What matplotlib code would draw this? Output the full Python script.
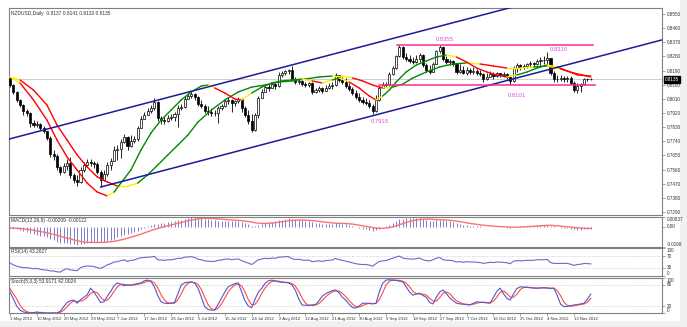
import numpy as np
import matplotlib
matplotlib.use("Agg")
import matplotlib.pyplot as plt
import matplotlib.transforms as mtransforms
from matplotlib.collections import LineCollection
from matplotlib.patches import Rectangle

plt.rcParams["font.family"] = ["Liberation Sans", "DejaVu Sans"]

# ---- NZDUSD daily bars, 1 May 2012 .. 19 Nov 2012 ----
first_open = 0.8143
closes = [
    .8098, .8054, .8003, .7971, .7933, .7920, .7856, .7843, .7850, .7824,
    .7805, .7761, .7659, .7646, .7576, .7544, .7583, .7602, .7526, .7494,
    .7481, .7557, .7589, .7608, .7602, .7595, .7544, .7494, .7532, .7589,
    .7614, .7684, .7691, .7735, .7767, .7710, .7742, .7754, .7824, .7882,
    .7907, .7933, .7952, .7990, .7888, .7875, .7869, .7888, .7894, .7914,
    .7952, .7958, .8009, .8028, .8041, .8022, .7977, .7964, .7933, .7926,
    .7920, .7920, .7952, .7964, .7996, .8003, .7984, .7996, .8009, .7952,
    .7907, .7869, .7812, .7907, .8015, .8054, .8085, .8079, .8104, .8092,
    .8162, .8174, .8187, .8194, .8136, .8117, .8124, .8104, .8098, .8111,
    .8054, .8066, .8079, .8060, .8079, .8092, .8098, .8162, .8130, .8117,
    .8092, .8073, .8047, .8022, .8003, .7990, .7984, .7964, .7933, .8003,
    .8079, .8098, .8104, .8168, .8206, .8283, .8340, .8276, .8264, .8251,
    .8244, .8264, .8289, .8225, .8194, .8181, .8232, .8315, .8340, .8264,
    .8244, .8251, .8232, .8181, .8194, .8174, .8194, .8181, .8187, .8174,
    .8168, .8136, .8149, .8168, .8155, .8174, .8162, .8168, .8149, .8124,
    .8206, .8225, .8213, .8219, .8232, .8238, .8232, .8251, .8257, .8257,
    .8270, .8174, .8136, .8136, .8143, .8136, .8143, .8111, .8066, .8092,
    .8104, .8136, .8137, .8135]
highs = [
    .8149, .8104, .8060, .8009, .7977, .7945, .7926, .7875, .7869, .7856,
    .7837, .7805, .7773, .7684, .7659, .7583, .7602, .7627, .7640, .7538,
    .7526, .7576, .7608, .7627, .7627, .7614, .7608, .7557, .7557, .7608,
    .7633, .7710, .7716, .7754, .7786, .7773, .7780, .7773, .7837, .7901,
    .7926, .7952, .7971, .8015, .7996, .7901, .7894, .7907, .7914, .7926,
    .7971, .7977, .8028, .8047, .8060, .8047, .8028, .8003, .7977, .7964,
    .7952, .7939, .7964, .7977, .8009, .8022, .8009, .8003, .8022, .8015,
    .7964, .7939, .7914, .7920, .8028, .8073, .8098, .8104, .8117, .8111,
    .8181, .8187, .8194, .8200, .8219, .8149, .8136, .8130, .8117, .8117,
    .8117, .8079, .8092, .8085, .8098, .8111, .8117, .8174, .8162, .8149,
    .8143, .8111, .8085, .8066, .8047, .8022, .8015, .8003, .7977, .8034,
    .8092, .8117, .8117, .8181, .8219, .8289, .8355, .8346, .8302, .8289,
    .8276, .8289, .8302, .8296, .8238, .8225, .8244, .8321, .8353, .8346,
    .8283, .8264, .8257, .8238, .8232, .8219, .8213, .8206, .8213, .8200,
    .8194, .8174, .8174, .8187, .8181, .8181, .8174, .8181, .8174, .8162,
    .8219, .8238, .8232, .8232, .8238, .8251, .8244, .8264, .8276, .8283,
    .8310, .8270, .8187, .8162, .8162, .8155, .8155, .8155, .8124, .8111,
    .8111, .8143, .8143, .8141]
lows = [
    .8085, .8041, .7990, .7958, .7907, .7901, .7831, .7831, .7831, .7812,
    .7793, .7748, .7640, .7621, .7557, .7526, .7538, .7557, .7507, .7474,
    .7455, .7474, .7544, .7576, .7583, .7570, .7532, .7449, .7487, .7519,
    .7557, .7614, .7621, .7633, .7729, .7684, .7703, .7729, .7742, .7824,
    .7882, .7907, .7920, .7939, .7869, .7850, .7850, .7863, .7875, .7869,
    .7831, .7939, .7952, .8009, .8015, .8003, .7964, .7952, .7920, .7907,
    .7901, .7901, .7856, .7939, .7958, .7977, .7926, .7964, .7984, .7926,
    .7894, .7850, .7799, .7805, .7888, .8015, .8054, .8060, .8079, .8073,
    .8085, .8149, .8162, .8168, .8130, .8104, .8104, .8092, .8085, .8085,
    .8041, .8047, .8054, .8047, .8060, .8073, .8073, .8092, .8117, .8104,
    .8079, .8060, .8034, .8009, .7990, .7977, .7971, .7952, .7915, .7926,
    .7996, .8079, .8085, .8092, .8162, .8200, .8276, .8264, .8251, .8238,
    .8232, .8238, .8244, .8213, .8181, .8168, .8181, .8232, .8302, .8251,
    .8232, .8225, .8219, .8168, .8174, .8168, .8162, .8168, .8168, .8162,
    .8155, .8117, .8130, .8149, .8136, .8149, .8149, .8149, .8136, .8101,
    .8117, .8181, .8194, .8200, .8206, .8213, .8213, .8225, .8219, .8232,
    .8219, .8162, .8117, .8117, .8124, .8117, .8117, .8098, .8054, .8047,
    .8054, .8098, .8124, .8133]

# colour-coded moving averages (sampled bars, price)
fast_ma_bars = [0, 3, 7, 11, 14, 17, 20, 23, 26, 29, 31, 33, 36, 39, 42, 45, 48,
                51, 54, 57, 59, 61, 64, 67, 69, 72, 75, 78, 81, 84, 87, 90, 93,
                96, 98, 101, 104, 107, 109, 111, 113, 115, 118, 121, 124, 127,
                130, 133, 136, 139, 142, 145, 148, 151, 154, 157, 160, 163, 166,
                169, 173]
fast_ma = [.8149, .8111, .8003, .7875, .7748, .7640, .7557, .7474, .7417, .7392,
           .7417, .7474, .7557, .7684, .7793, .7875, .7939, .8003, .8054, .8092,
           .8098, .8079, .8047, .8009, .8003, .8047, .8085, .8111, .8124, .8130,
           .8136, .8124, .8111, .8130, .8143, .8117, .8079, .8028, .8003, .8028,
           .8066, .8117, .8181, .8225, .8251, .8276, .8289, .8276, .8244, .8206,
           .8181, .8162, .8149, .8162, .8181, .8206, .8225, .8213, .8187, .8162,
           .8155]
slow_ma_bars = [0, 3, 7, 11, 14, 17, 20, 23, 26, 29, 32, 35, 38, 41, 44, 47, 50,
                53, 56, 60, 64, 68, 72, 76, 80, 84, 88, 92, 96, 99, 102, 105, 108,
                111, 114, 117, 120, 124, 128, 132, 136, 140, 144, 148, 152, 156,
                160, 164, 168, 173]
slow_ma = [.8149, .8130, .8066, .7971, .7843, .7748, .7653, .7576, .7513, .7481,
           .7455, .7455, .7474, .7526, .7589, .7653, .7716, .7780, .7863, .7939,
           .8003, .8054, .8085, .8098, .8117, .8124, .8136, .8149, .8155, .8155,
           .8143, .8124, .8098, .8079, .8085, .8104, .8143, .8181, .8213, .8232,
           .8238, .8232, .8219, .8206, .8206, .8213, .8219, .8200, .8174, .8149]

# channel lines and horizontal levels: (bar, price) end points
channel_lower = [(27, 0.7449), (194.2, 0.8385)]
channel_upper = [(-0.3, 0.7754), (194.2, 0.8843)]
level_high = (115.2, 173.5, 0.8355)
level_low = (110.0, 174.3, 0.8101)
level_notes = [("0.8355", 129.5, 0.8386), ("0.8310", 163.5, 0.8321),
               ("0.7915", 110.0, 0.7869), ("0.8101", 151.0, 0.8034)]
last_price = 0.8135

# MACD(12,26,9): main as histogram, signal as line
macd_main = [
    -0.0010, -0.0014, -0.0020, -0.0027, -0.0035, -0.0042,
    -0.0052, -0.0060, -0.0066, -0.0072, -0.0078, -0.0086,
    -0.0100, -0.0110, -0.0122, -0.0132, -0.0134, -0.0134,
    -0.0140, -0.0146, -0.0150, -0.0146, -0.0140, -0.0134,
    -0.0130, -0.0126, -0.0126, -0.0130, -0.0126, -0.0118,
    -0.0110, -0.0098, -0.0088, -0.0076, -0.0064, -0.0060,
    -0.0052, -0.0044, -0.0032, -0.0018, -0.0006, 0.0006,
    0.0018, 0.0024, 0.0026, 0.0030, 0.0034, 0.0040,
    0.0044, 0.0050, 0.0056, 0.0062, 0.0070, 0.0076,
    0.0080, 0.0080, 0.0078, 0.0074, 0.0070, 0.0066,
    0.0060, 0.0056, 0.0054, 0.0052, 0.0052, 0.0052,
    0.0050, 0.0048, 0.0046, 0.0040, 0.0032, 0.0022,
    0.0010, 0.0008, 0.0016, 0.0024, 0.0032, 0.0038,
    0.0044, 0.0048, 0.0056, 0.0062, 0.0068, 0.0072,
    0.0070, 0.0066, 0.0062, 0.0058, 0.0054, 0.0050,
    0.0042, 0.0036, 0.0032, 0.0028, 0.0026, 0.0024,
    0.0024, 0.0030, 0.0030, 0.0028, 0.0024, 0.0018,
    0.0010, 0.0002, -0.0006, -0.0014, -0.0020, -0.0026,
    -0.0034, -0.0028, -0.0014, -0.0002, 0.0008, 0.0020,
    0.0034, 0.0050, 0.0066, 0.0070, 0.0072, 0.0074,
    0.0074, 0.0074, 0.0076, 0.0070, 0.0062, 0.0054,
    0.0052, 0.0056, 0.0060, 0.0056, 0.0050, 0.0046,
    0.0040, 0.0032, 0.0026, 0.0020, 0.0016, 0.0012,
    0.0010, 0.0008, 0.0006, 0.0002, 0.0000, 0.0000,
    -0.0002, -0.0002, -0.0002, -0.0004, -0.0006, -0.0010,
    -0.0004, 0.0002, 0.0004, 0.0006, 0.0008, 0.0010,
    0.0012, 0.0014, 0.0016, 0.0018, 0.0020, 0.0012,
    0.0004, -0.0002, -0.0006, -0.0008, -0.0010, -0.0014,
    -0.0020, -0.0022, -0.0022, -0.0020, -0.0020, -0.00209]
macd_signal = [
    -0.0008, -0.0009, -0.0011, -0.0013, -0.0016, -0.0019,
    -0.0023, -0.0028, -0.0033, -0.0038, -0.0043, -0.0048,
    -0.0055, -0.0062, -0.0070, -0.0078, -0.0086, -0.0093,
    -0.0100, -0.0108, -0.0115, -0.0121, -0.0125, -0.0128,
    -0.0130, -0.0130, -0.0130, -0.0130, -0.0129, -0.0127,
    -0.0124, -0.0120, -0.0115, -0.0109, -0.0102, -0.0094,
    -0.0086, -0.0078, -0.0069, -0.0060, -0.0050, -0.0040,
    -0.0030, -0.0021, -0.0013, -0.0005, 0.0003, 0.0010,
    0.0017, 0.0024, 0.0031, 0.0038, 0.0045, 0.0052,
    0.0058, 0.0064, 0.0068, 0.0071, 0.0073, 0.0073,
    0.0072, 0.0070, 0.0068, 0.0066, 0.0063, 0.0061,
    0.0059, 0.0057, 0.0055, 0.0053, 0.0050, 0.0046,
    0.0041, 0.0036, 0.0032, 0.0030, 0.0030, 0.0031,
    0.0033, 0.0036, 0.0040, 0.0044, 0.0048, 0.0052,
    0.0055, 0.0057, 0.0058, 0.0058, 0.0057, 0.0056,
    0.0053, 0.0050, 0.0047, 0.0043, 0.0040, 0.0037,
    0.0034, 0.0032, 0.0031, 0.0030, 0.0029, 0.0027,
    0.0024, 0.0020, 0.0015, 0.0010, 0.0005, 0.0000,
    -0.0005, -0.0009, -0.0011, -0.0011, -0.0009, -0.0005,
    0.0001, 0.0009, 0.0019, 0.0029, 0.0038, 0.0046,
    0.0053, 0.0058, 0.0062, 0.0065, 0.0066, 0.0066,
    0.0064, 0.0062, 0.0061, 0.0060, 0.0058, 0.0056,
    0.0053, 0.0049, 0.0045, 0.0040, 0.0035, 0.0030,
    0.0026, 0.0022, 0.0018, 0.0015, 0.0012, 0.0009,
    0.0007, 0.0005, 0.0003, 0.0002, 0.0000, -0.0002,
    -0.0002, -0.0002, -0.0001, 0.0001, 0.0003, 0.0004,
    0.0006, 0.0008, 0.0010, 0.0012, 0.0014, 0.0014,
    0.0012, 0.0010, 0.0007, 0.0004, 0.0002, -0.0001,
    -0.0004, -0.0007, -0.0009, -0.0011, -0.0012, -0.00122]

# RSI(14)
rsi = [
    46, 40, 35, 32, 30, 30, 28, 26, 27, 24, 22, 21, 18, 18, 15, 14, 22, 26, 22, 20,
    19, 30, 34, 36, 35, 34, 30, 27, 33, 40, 44, 50, 51, 55, 58, 52, 56, 57, 62, 65,
    66, 67, 68, 70, 58, 57, 56, 58, 58, 60, 63, 63, 67, 68, 69, 66, 60, 58, 54, 53,
    52, 52, 56, 57, 60, 61, 58, 60, 61, 55, 50, 46, 41, 50, 58, 61, 63, 62, 64, 63,
    67, 68, 69, 69, 62, 59, 60, 57, 56, 57, 51, 53, 54, 52, 55, 56, 57, 63, 58, 56,
    53, 50, 47, 44, 42, 41, 41, 39, 35, 44, 52, 54, 55, 60, 63, 68, 71, 64, 62, 61,
    60, 62, 64, 58, 55, 54, 58, 64, 66, 58, 56, 56, 54, 50, 51, 49, 51, 50, 50, 49,
    48, 45, 47, 49, 48, 50, 49, 49, 47, 44, 53, 55, 54, 55, 56, 56, 56, 58, 58, 58,
    59, 48, 45, 45, 45, 45, 45, 42, 38, 41, 42, 45, 44, 43.2627]

# Stochastic(5,3,3): %K and %D
stoch_k = [
    60, 40, 20, 8, 3, 1, 0, 1, 3, 1, 0, 0, 0, 0, 0, 5, 18, 30, 35, 37,
    28, 38, 45, 52, 71, 60, 45, 30, 32, 48, 62, 78, 86, 82, 78, 80, 80, 82, 84, 86,
    92, 94, 90, 75, 50, 32, 28, 27, 28, 30, 55, 80, 86, 88, 89, 85, 71, 45, 18, 10,
    8, 9, 25, 43, 60, 75, 80, 84, 86, 60, 35, 20, 15, 40, 60, 71, 85, 92, 94, 91,
    89, 88, 87, 86, 80, 65, 40, 23, 22, 22, 23, 24, 35, 48, 55, 60, 64, 66, 58, 45,
    37, 25, 16, 14, 20, 28, 28, 27, 26, 28, 60, 85, 94, 95, 94, 93, 91, 89, 75, 60,
    51, 54, 57, 50, 45, 30, 26, 45, 60, 66, 55, 43, 35, 28, 26, 25, 24, 23, 28, 32,
    31, 30, 29, 28, 45, 62, 71, 55, 42, 37, 55, 70, 75, 74, 73, 72, 71, 71, 72, 72,
    71, 70, 71, 50, 25, 18, 19, 21, 23, 24, 26, 28, 40, 53.9171]
stoch_d = [
    70, 55, 40, 22, 10, 4, 1, 1, 1, 2, 1, 0, 0, 0, 0, 2, 8, 18, 28, 34,
    33, 34, 37, 45, 56, 61, 58, 45, 36, 37, 47, 62, 75, 82, 82, 80, 79, 80, 82, 84,
    87, 91, 92, 86, 72, 52, 37, 29, 28, 28, 38, 55, 74, 85, 88, 87, 82, 67, 45, 24,
    12, 9, 14, 26, 43, 60, 72, 80, 83, 77, 60, 38, 23, 25, 38, 57, 72, 83, 90, 92,
    91, 89, 88, 87, 84, 77, 62, 43, 28, 22, 22, 23, 27, 36, 46, 54, 60, 63, 63, 56,
    47, 36, 26, 18, 17, 21, 25, 28, 27, 27, 38, 58, 80, 91, 94, 94, 93, 91, 85, 75,
    62, 55, 54, 54, 51, 42, 34, 34, 44, 57, 60, 55, 44, 35, 30, 26, 25, 24, 25, 28,
    30, 31, 30, 29, 34, 45, 59, 63, 56, 45, 45, 54, 67, 73, 74, 73, 72, 71, 71, 72,
    72, 71, 71, 64, 49, 31, 21, 19, 21, 23, 24, 26, 31, 42.0024]

date_bars = [0, 8, 16, 24, 32, 40, 48, 56, 64, 72, 80, 88, 96, 104, 112, 120,
             128, 136, 144, 152, 160, 168]
date_labels = ["1 May 2012", "10 May 2012", "20 May 2012", "29 May 2012",
               "7 Jun 2012", "17 Jun 2012", "26 Jun 2012", "5 Jul 2012",
               "15 Jul 2012", "24 Jul 2012", "2 Aug 2012", "12 Aug 2012",
               "21 Aug 2012", "30 Aug 2012", "9 Sep 2012", "18 Sep 2012",
               "27 Sep 2012", "7 Oct 2012", "16 Oct 2012", "25 Oct 2012",
               "4 Nov 2012", "13 Nov 2012"]
price_ticks = [0.8550, 0.8460, 0.8370, 0.8280, 0.8190, 0.8100, 0.8010, 0.7920,
               0.7830, 0.7740, 0.7650, 0.7560, 0.7470, 0.7380, 0.7290]

# ---- figure ----
W, H = 687, 327
fig = plt.figure(figsize=(W / 100, H / 100), dpi=100, facecolor="#f0f0f0")
fig.add_artist(Rectangle((0, 1 - 321 / H), 680 / W, 321 / H,
                         transform=fig.transFigure, facecolor="white",
                         edgecolor="none", zorder=-5))

FRAME = "#808080"
TXT = "#303030"
FS = 3.5


def panel(y0, y1):
    ax = fig.add_axes([9 / W, 1 - y1 / H, (662 - 9) / W, (y1 - y0) / H])
    ax.set_xlim(-0.3, 194.2)
    for s in ax.spines.values():
        s.set_color(FRAME)
        s.set_linewidth(0.8)
    ax.yaxis.tick_right()
    ax.tick_params(axis="y", labelsize=3.3, length=2, width=0.5, pad=1.2,
                   colors=FRAME, labelcolor=TXT)
    ax.tick_params(axis="x", bottom=False, labelbottom=False)
    return ax


def colored_ma(ax, bars, vals):
    x = np.asarray(bars, float)
    y = np.asarray(vals, float)
    d = np.diff(y)
    cols = np.where(d < 0, "#ff0000", "#008a00").astype(object)
    s = np.sign(d)
    for i in range(1, len(s)):
        if s[i] != s[i - 1]:
            cols[i] = "#ffee00"
    cols[0] = "#ffee00"
    segs = np.stack([np.column_stack([x[:-1], y[:-1]]),
                     np.column_stack([x[1:], y[1:]])], axis=1)
    ax.add_collection(LineCollection(segs, colors=list(cols), linewidths=1.0,
                                     capstyle="round", zorder=4))


# main price panel
ax = panel(8, 215)
ax.set_ylim(0.7271, 0.8588)
ax.set_yticks(price_ticks)
ax.set_yticklabels([f"{t:.4f}" for t in price_ticks])

n = len(closes)
idx = np.arange(n)
c = np.array(closes)
o = np.array([first_open] + closes[:-1])
hi = np.array(highs)
lo = np.array(lows)

ax.axhline(last_price, color="#c8c8c8", lw=0.6, zorder=1)
ax.vlines(idx, lo, hi, color="black", lw=0.6, zorder=2)
up = c >= o
body = np.maximum(np.abs(c - o), 0.00012)
ax.bar(idx[up], body[up], bottom=o[up], width=0.62, color="white",
       edgecolor="black", linewidth=0.5, zorder=3)
ax.bar(idx[~up], body[~up], bottom=c[~up], width=0.62, color="black",
       edgecolor="black", linewidth=0.5, zorder=3)

colored_ma(ax, slow_ma_bars, slow_ma)
colored_ma(ax, fast_ma_bars, fast_ma)

for line in (channel_lower, channel_upper):
    (x0, y0), (x1, y1) = line
    ax.plot([x0, x1], [y0, y1], color="#1c1c98", lw=1.1, zorder=5)
for x0, x1, lvl in (level_high, level_low):
    ax.plot([x0, x1], [lvl, lvl], color="#ff2a95", lw=1.1, zorder=5)
for txt, xb, yv in level_notes:
    ax.text(xb, yv, txt, color="#e24ce2", fontsize=4.2, ha="center",
            va="center", zorder=6)

ax.text(0.003, 0.985, "NZDUSD,Daily  0.8137 0.8141 0.8133 0.8135",
        transform=ax.transAxes, fontsize=FS, color=TXT, va="top")
tr = mtransforms.blended_transform_factory(ax.transAxes, ax.transData)
ax.text(1.004, last_price, "0.8135", transform=tr, fontsize=3.3, color="white",
        va="center", ha="left", zorder=7,
        bbox=dict(facecolor="black", edgecolor="black", pad=0.8))

# MACD panel
am = panel(217, 247)
am.set_ylim(-0.0168, 0.00837)
am.vlines(idx, 0, macd_main, color="#7c7cce", lw=0.7)
am.plot(idx, macd_signal, color="#ff7070", lw=1.0)
am.set_yticks([0.00837, 0.0, -0.0168])
am.set_yticklabels(["0.00837", "0.00", "-0.0168"])
for lbl, va in zip(am.get_yticklabels(), ["top", "center", "bottom"]):
    lbl.set_va(va)
am.text(0.003, 0.96, "MACD(12,26,9) -0.00209 -0.00122", transform=am.transAxes,
        fontsize=FS, color=TXT, va="top")

# RSI panel
ar = panel(248, 276)
ar.set_ylim(0, 100)
for lv in (70, 30):
    ar.axhline(lv, color="#b8b8b8", lw=0.6, ls=(0, (1, 2)))
ar.plot(idx, rsi, color="#6a6ac8", lw=0.8)
ar.set_yticks([100, 70, 30, 0])
ar.set_yticklabels(["100", "70", "30", "0"])
for lbl, va in zip(ar.get_yticklabels(), ["top", "center", "center", "bottom"]):
    lbl.set_va(va)
ar.text(0.003, 0.95, "RSI(14) 43.2627", transform=ar.transAxes, fontsize=FS,
        color=TXT, va="top")

# Stochastic panel
ast = panel(278, 313)
ast.set_ylim(0, 100)
for lv in (80, 20):
    ast.axhline(lv, color="#b8b8b8", lw=0.6, ls=(0, (1, 2)))
ast.plot(idx, stoch_d, color="#ff4a4a", lw=0.8)
ast.plot(idx, stoch_k, color="#5757c8", lw=0.8)
ast.set_yticks([100, 80, 20, 0])
ast.set_yticklabels(["100", "80", "20", "0"])
for lbl, va in zip(ast.get_yticklabels(), ["top", "center", "center", "bottom"]):
    lbl.set_va(va)
ast.text(0.003, 0.96, "Stoch(5,3,3) 53.9171 42.0024", transform=ast.transAxes,
         fontsize=FS, color=TXT, va="top")
ast.tick_params(axis="x", bottom=True, labelbottom=True, labelsize=3.1,
                length=2, width=0.5, pad=1, colors=FRAME, labelcolor=TXT)
ast.set_xticks(date_bars)
ast.set_xticklabels(date_labels, ha="left")

fig.savefig("out.png", dpi=100, facecolor=fig.get_facecolor())
